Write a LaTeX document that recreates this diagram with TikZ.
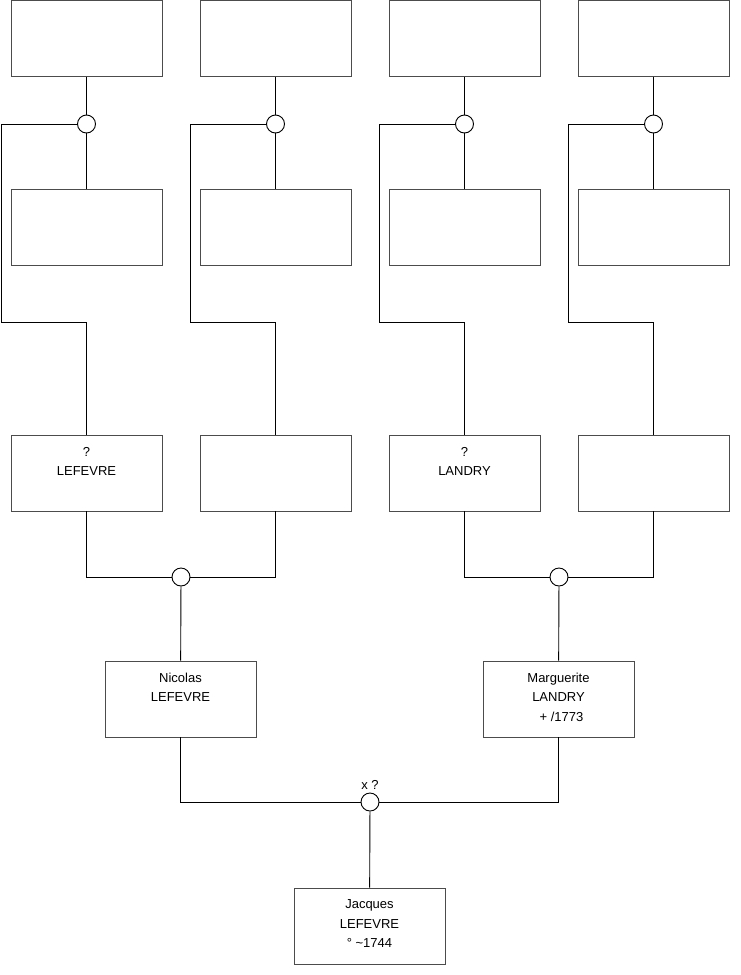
\documentclass[tikz,border=0pt]{standalone}
\usepackage{fontspec}
\setmainfont{Liberation Sans}
\usetikzlibrary{positioning}

\begin{document}
\begin{tikzpicture}[x=1pt,y=-1pt,line width=0.9pt,font=\fontsize{13}{19.5}\selectfont]
\tikzstyle{p}=[draw=black!70,minimum width=151pt,minimum height=76pt,inner sep=0pt]
\tikzstyle{u}=[draw,circle,fill=white,minimum size=18pt,inner sep=0pt]
\tikzstyle{t}=[anchor=north,align=center,inner sep=0pt,yshift=-12pt]
\useasboundingbox (0,0) rectangle (740,975);
% great-grandparents and their unions
\foreach \i/\x in {1/86.5,2/275.5,3/464.5,4/653.5}{
  \node[p] (p1\i) at (\x,38.5) {};
  \node[p] (p2\i) at (\x,227) {};
  \node[p] (p3\i) at (\x,473) {};
  \node[u] (c1\i) at (\x,124) {};
  \coordinate (k\i) at (\x-85.5,322);
  \draw (p1\i) -- (c1\i);
  \draw (c1\i) -- (p2\i);
  \draw (c1\i.west) -| (k\i) -| (p3\i.north);
}
\node[t] (t31) at (p31.north) {?\\LEFEVRE};
\node[t] (t33) at (p33.north) {?\\LANDRY};
% grandparents
\node[u] (c31) at (181,577) {};
\node[u] (c33) at (559,577) {};
\draw (p31.south) |- (c31.west); \draw (p32.south) |- (c31.east);
\draw (p33.south) |- (c33.west); \draw (p34.south) |- (c33.east);
\node[p] (n) at (180.5,699) {};
\node[t] (tn) at (n.north) {Nicolas\\LEFEVRE};
\node[p] (m) at (558.5,699) {};
\node[t] (tm) at (m.north) {Marguerite\\LANDRY\\\hspace{6pt}+ /1773};
\draw (c31) -- (n); \draw (c33) -- (m);
% parents
\node[u] (x) at (370,802) {};
\node[above=3pt of x,inner sep=0pt] (xl) {x ?};
\draw (n.south) |- (x.west); \draw (m.south) |- (x.east);
\node[p] (j) at (369.5,926) {};
\node[t] (tj) at (j.north) {Jacques\\LEFEVRE\\° \textasciitilde1744};
\draw (x) -- (j);
\end{tikzpicture}
\end{document}
